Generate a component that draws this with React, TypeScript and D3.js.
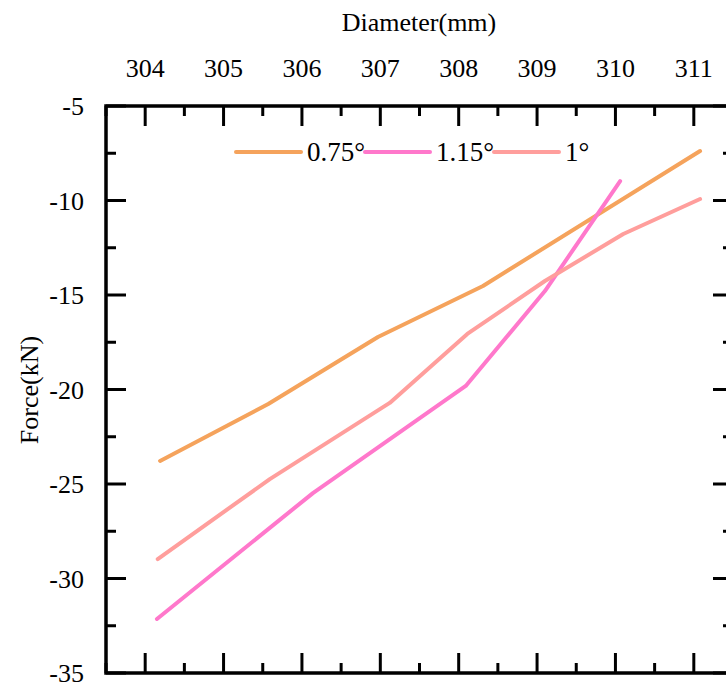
import { useEffect, useRef } from 'react';
import * as d3 from 'd3';

const width = 726;
const height = 686;

// diameter (mm) / force (kN)
const x075 = [304.19, 305.57, 306.97, 308.31, 311.08];
const y075 = [-23.78, -20.77, -17.22, -14.52, -7.38];

const x115 = [304.15, 306.14, 308.09, 309.1, 310.06];
const y115 = [-32.14, -25.48, -19.81, -14.79, -8.97];

const x1 = [304.16, 305.59, 307.12, 308.11, 309.1, 310.1, 311.08];
const y1 = [-28.97, -24.74, -20.71, -17.06, -14.26, -11.77, -9.92];

const seriesNames = ['0.75°', '1.15°', '1°'];
const seriesColors = ['#F5A35C', '#FF78CB', '#FF9E9C'];

const xTicks = [304, 305, 306, 307, 308, 309, 310, 311];
const yTicks = [-35, -30, -25, -20, -15, -10, -5];

const FONT = '"Liberation Serif", "Times New Roman", serif';

export default function App() {
    const ref = useRef<SVGSVGElement>(null);

    useEffect(() => {
        const svg = d3.select(ref.current);
        svg.selectAll('*').remove();

        const x = d3.scaleLinear().domain([303.5, 311.5]).range([106, 733]);
        const y = d3.scaleLinear().domain([-35, -5]).range([673, 106]);

        const xMinor = d3.range(303.5, 311.6, 0.5).filter((v) => !xTicks.includes(v));
        const yMinor = d3.range(-35, -4.9, 2.5).filter((v) => !yTicks.includes(v));

        const g = svg.append('g');

        // lines
        const line = d3
            .line<[number, number]>()
            .x((d) => x(d[0]))
            .y((d) => y(d[1]));
        const data = [
            x075.map((v, i) => [v, y075[i]] as [number, number]),
            x115.map((v, i) => [v, y115[i]] as [number, number]),
            x1.map((v, i) => [v, y1[i]] as [number, number])
        ];
        g.selectAll('path.series')
            .data(data)
            .join('path')
            .attr('class', 'series')
            .attr('d', (d) => line(d))
            .attr('fill', 'none')
            .attr('stroke', (_d, i) => seriesColors[i])
            .attr('stroke-width', 4)
            .attr('stroke-linecap', 'round')
            .attr('stroke-linejoin', 'round');

        // ticks, all pointing inward
        const [x0, x1r] = x.range();
        const [yb, yt] = y.range();
        const tick = (sel, x1v, y1v, x2v, y2v) =>
            sel.append('line').attr('x1', x1v).attr('y1', y1v).attr('x2', x2v).attr('y2', y2v)
                .attr('stroke', '#000').attr('stroke-width', 3);

        xTicks.forEach((v) => {
            tick(g, x(v), yt, x(v), yt + 20);
            tick(g, x(v), yb, x(v), yb - 20);
        });
        xMinor.forEach((v) => {
            tick(g, x(v), yt, x(v), yt + 10);
            tick(g, x(v), yb, x(v), yb - 10);
        });
        yTicks.forEach((v) => {
            tick(g, x0, y(v), x0 + 20, y(v));
            tick(g, x1r, y(v), x1r - 20, y(v));
        });
        yMinor.forEach((v) => {
            tick(g, x0, y(v), x0 + 10, y(v));
            tick(g, x1r, y(v), x1r - 10, y(v));
        });

        // frame
        g.append('rect')
            .attr('x', x0)
            .attr('y', yt)
            .attr('width', x1r - x0)
            .attr('height', yb - yt)
            .attr('fill', 'none')
            .attr('stroke', '#000')
            .attr('stroke-width', 3.5);

        // tick labels
        g.selectAll('text.xt')
            .data(xTicks)
            .join('text')
            .attr('class', 'xt')
            .attr('x', (d) => x(d))
            .attr('y', 77)
            .attr('text-anchor', 'middle')
            .attr('font-family', FONT)
            .attr('font-size', 26)
            .text((d) => d);

        g.selectAll('text.yt')
            .data(yTicks)
            .join('text')
            .attr('class', 'yt')
            .attr('x', 84)
            .attr('y', (d) => y(d))
            .attr('dy', '0.35em')
            .attr('text-anchor', 'end')
            .attr('font-family', FONT)
            .attr('font-size', 26)
            .text((d) => d);

        // axis titles
        g.append('text')
            .attr('x', 419)
            .attr('y', 31)
            .attr('text-anchor', 'middle')
            .attr('font-family', FONT)
            .attr('font-size', 26)
            .text('Diameter(mm)');
        g.append('text')
            .attr('transform', 'translate(38,390) rotate(-90)')
            .attr('text-anchor', 'middle')
            .attr('font-family', FONT)
            .attr('font-size', 26)
            .text('Force(kN)');

        // legend
        const legendX = [236, 365, 494];
        seriesNames.forEach((name, i) => {
            g.append('line')
                .attr('x1', legendX[i])
                .attr('x2', legendX[i] + 65)
                .attr('y1', 152)
                .attr('y2', 152)
                .attr('stroke', seriesColors[i])
                .attr('stroke-width', 4)
                .attr('stroke-linecap', 'round');
            g.append('text')
                .attr('x', legendX[i] + 71)
                .attr('y', 152)
                .attr('dy', '0.35em')
                .attr('font-family', FONT)
                .attr('font-size', 27)
                .text(name);
        });
    }, []);

    return (
        <svg
            ref={ref}
            width={width}
            height={height}
            style={{ position: 'absolute', left: 0, top: 0, background: '#fff' }}
        />
    );
}
